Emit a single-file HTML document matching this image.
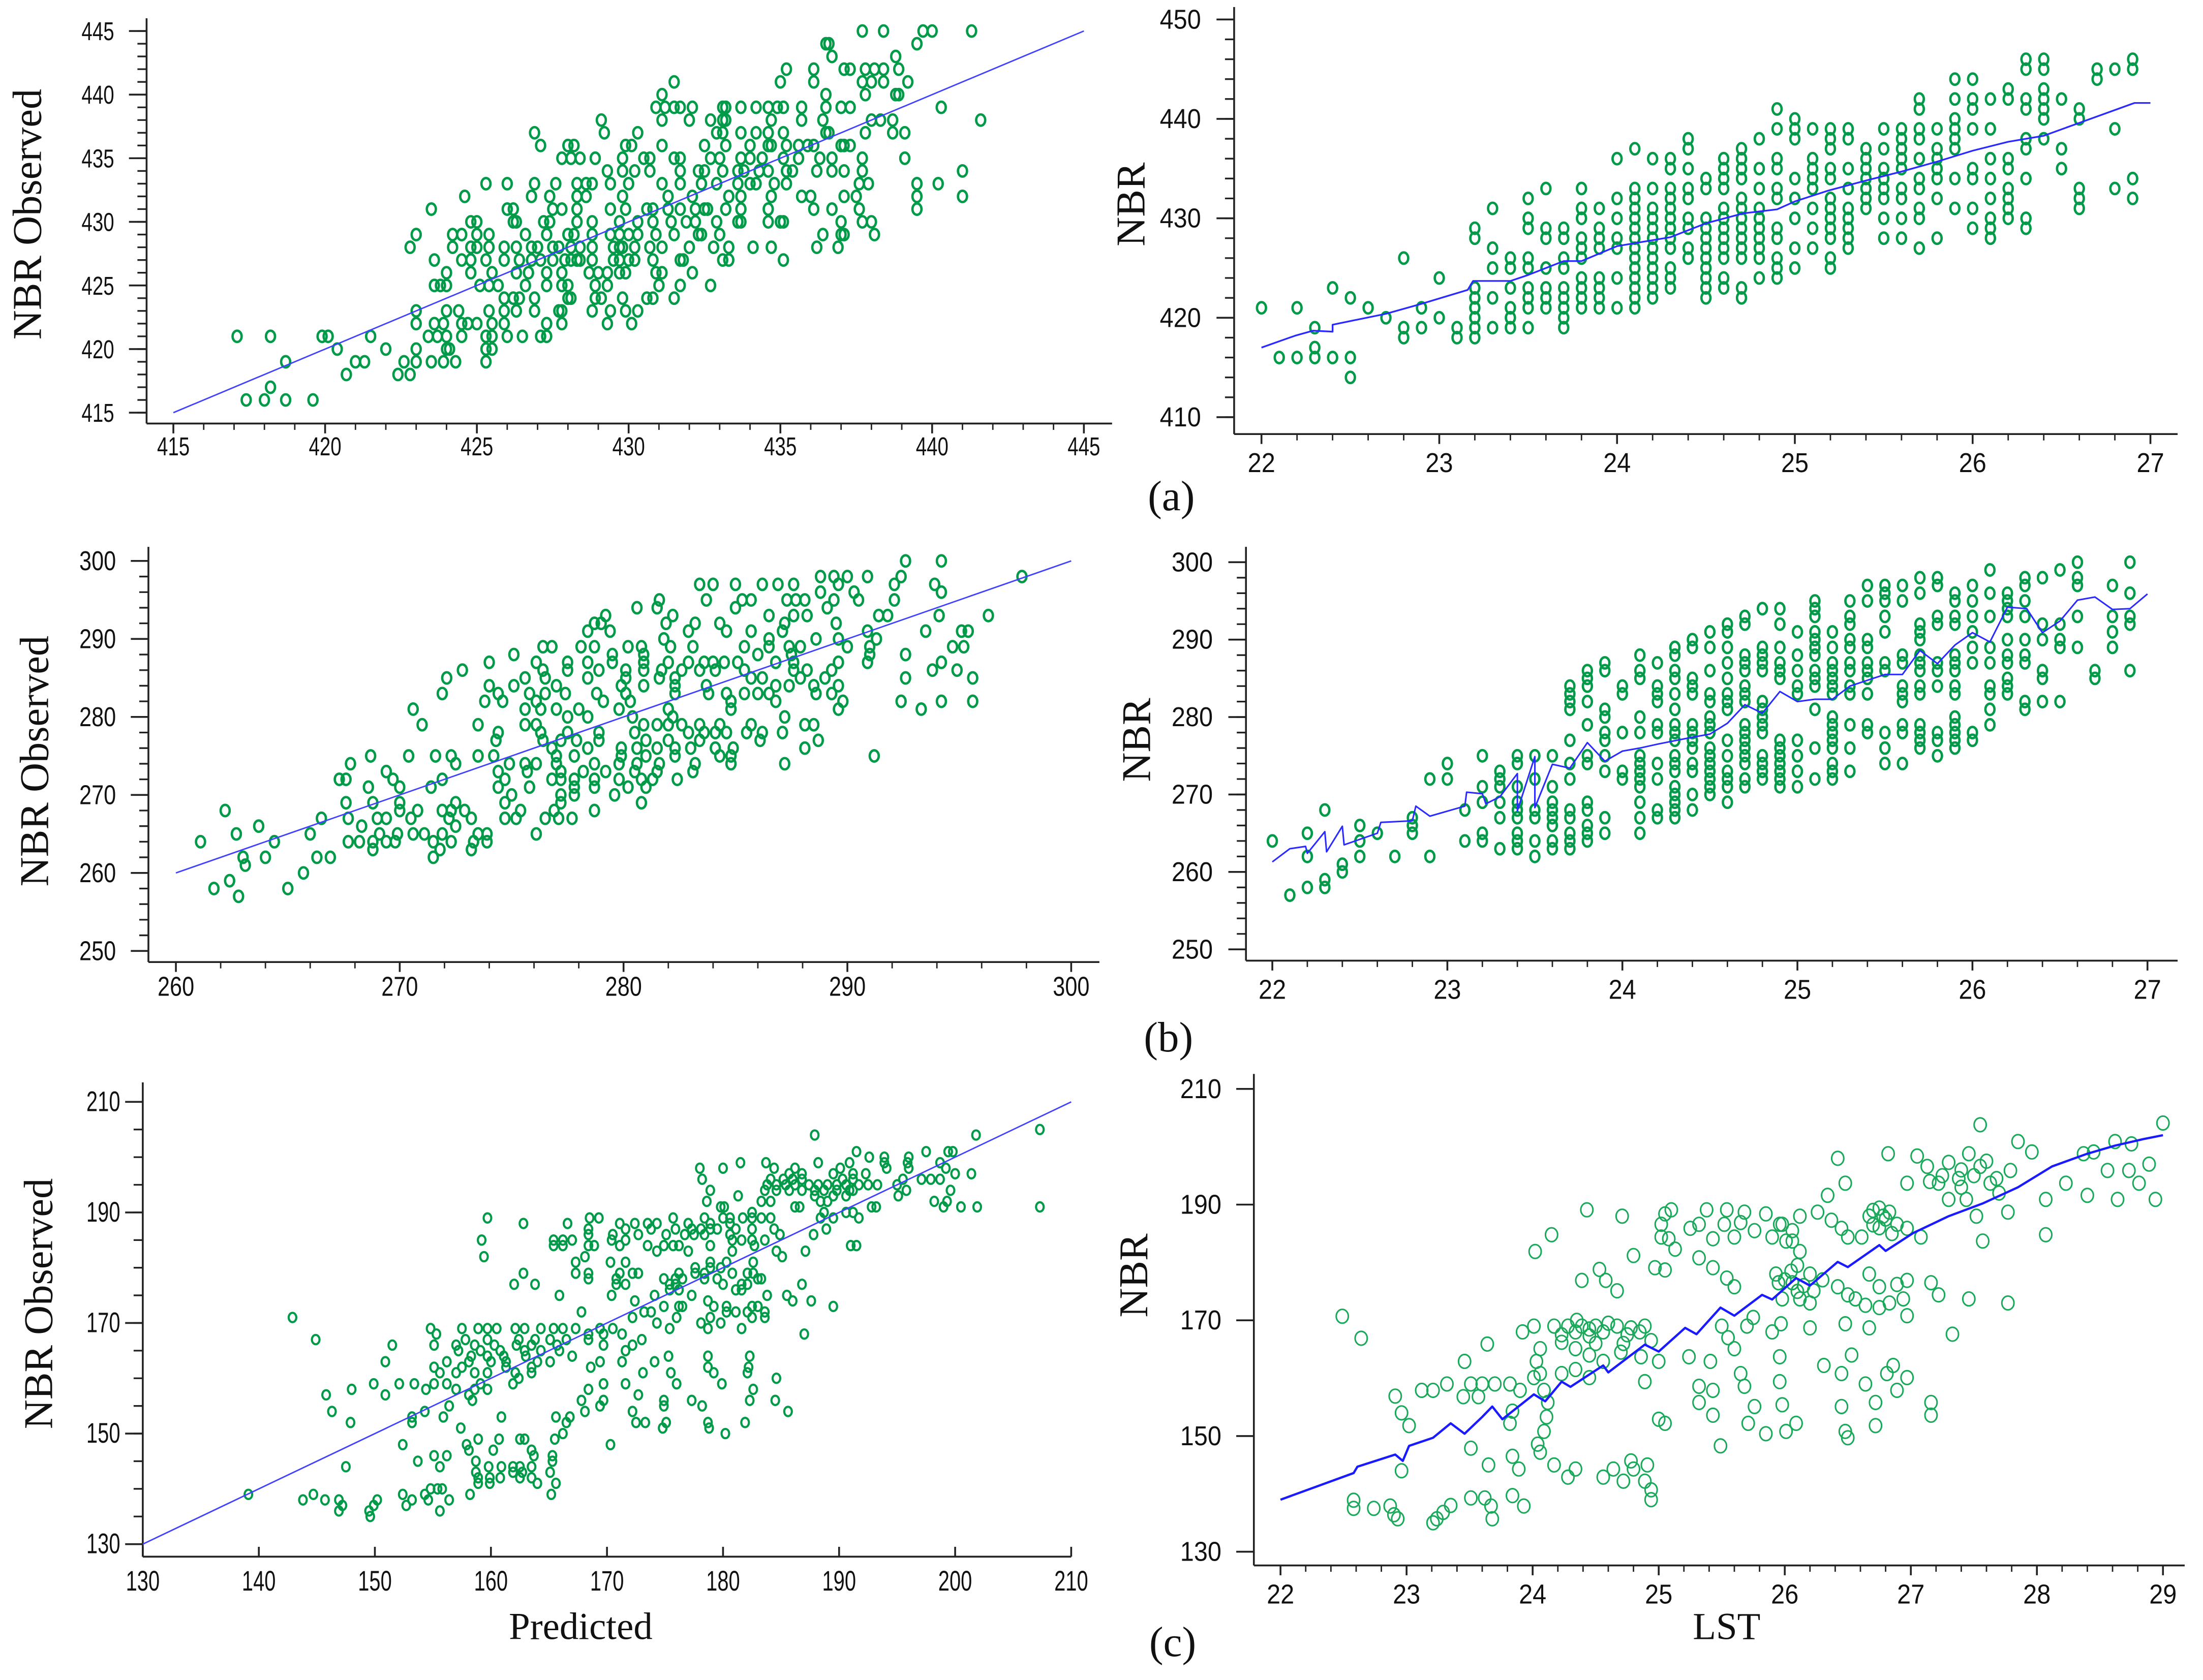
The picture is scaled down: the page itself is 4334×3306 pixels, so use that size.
<!DOCTYPE html>
<html><head><meta charset="utf-8"><title>NBR scatter plots</title>
<style>
html,body{margin:0;padding:0;background:#fff;}
svg{display:block;}
</style></head>
<body>
<svg id="fig" xmlns="http://www.w3.org/2000/svg" width="4334" height="3306" viewBox="0 0 1563 1192" preserveAspectRatio="none">
<rect x="0" y="0" width="1563" height="1192" fill="#fff"/>
<g font-family="'Liberation Serif', serif" fill="#111">
<text transform="translate(29,152) rotate(-90)" text-anchor="middle" font-size="29">NBR Observed</text>
<text transform="translate(34,540) rotate(-90)" text-anchor="middle" font-size="29">NBR Observed</text>
<text transform="translate(37,925) rotate(-90)" text-anchor="middle" font-size="29">NBR Observed</text>
<text transform="translate(812,145) rotate(-90)" text-anchor="middle" font-size="29">NBR</text>
<text transform="translate(816,525) rotate(-90)" text-anchor="middle" font-size="29">NBR</text>
<text transform="translate(814,905) rotate(-90)" text-anchor="middle" font-size="29">NBR</text>
<text x="831" y="362" text-anchor="middle" font-size="30">(a)</text>
<text x="829" y="746" text-anchor="middle" font-size="30">(b)</text>
<text x="832" y="1175" text-anchor="middle" font-size="30">(c)</text>
<text x="412" y="1163" text-anchor="middle" font-size="27">Predicted</text>
<text x="1225" y="1163" text-anchor="middle" font-size="27">LST</text>
</g>
</svg>
<script>
// ---------- Panel (a) left: rows of observed NBR with predicted values ----------
const aLeftRowY = [445,444,443,442,441,440,439,438,437,436,435,434,433,432,431,430,429,428,427,426,425,424,423,422,421,420,419,418,417,416];
const aLeftRowX = [
[437.7,438.4,439.7,440.0,441.3],
[436.5,436.6,439.5],
[436.7,438.8],
[435.2,436.1,437.1,437.3,437.8,438.1,438.4,438.9],
[431.5,435.0,436.1,437.7,438.0,438.4,439.2],
[431.1,436.5,437.8,438.8,438.9],
[430.9,431.2,431.5,431.7,432.1,433.1,433.2,433.7,434.2,434.6,434.9,435.1,435.7,436.5,437.0,437.3,440.3],
[429.1,431.1,432.0,432.7,433.1,433.2,434.7,435.7,436.4,438.0,438.3,438.7,441.6],
[426.9,429.2,430.3,432.9,433.1,433.7,434.2,434.6,435.1,436.5,436.6,437.8,438.7,439.1],
[427.1,428.0,428.2,429.9,430.1,431.1,432.5,433.2,434.0,434.6,434.7,435.2,435.6,435.9,436.1,437.0,437.1,437.3],
[427.8,428.1,428.4,428.9,429.8,430.5,430.7,431.5,431.7,432.7,433.0,433.7,434.0,434.4,435.1,435.6,436.3,436.7,437.7,439.1],
[429.3,429.8,430.2,430.7,431.7,432.3,432.5,433.1,433.6,433.8,434.3,434.6,435.2,435.4,436.2,436.7,437.1,437.7,441.0],
[425.3,426.0,426.9,427.6,428.3,428.6,428.8,429.4,430.0,431.1,431.7,432.4,432.9,433.6,434.0,434.2,434.8,435.2,437.6,437.9,439.5,440.2],
[424.6,426.8,427.4,428.3,428.6,429.8,431.3,432.1,433.3,433.7,434.7,435.7,436.0,437.1,437.5,439.5,441.0],
[423.5,426.0,426.2,427.5,427.8,428.3,429.4,429.9,430.6,430.8,431.3,431.7,432.2,432.5,432.6,433.2,433.7,434.6,436.1,436.7,437.6,439.5],
[424.8,425.0,426.2,426.3,427.2,427.4,428.3,428.8,429.7,430.3,430.8,431.4,431.9,432.2,432.9,433.6,433.7,434.6,435.0,435.1,437.0,437.7,438.0],
[423.0,424.2,424.5,425.0,425.4,426.6,427.3,428.0,428.2,428.8,429.4,429.7,430.0,430.3,430.9,431.5,432.3,432.4,433.0,436.4,437.0,437.1,438.1],
[422.8,424.2,424.8,425.0,425.4,425.9,426.3,426.8,427.0,427.5,427.7,428.1,428.4,428.8,429.5,429.7,429.8,430.2,430.7,431.1,432.0,432.8,433.3,434.1,434.7,436.2,436.9],
[423.6,424.5,424.8,425.3,425.9,426.4,426.8,427.1,427.5,427.9,428.1,428.3,428.4,428.8,429.5,429.7,430.0,430.2,430.8,431.7,431.8,433.1,433.3,435.1],
[424.0,424.8,425.5,426.3,426.7,427.3,427.8,428.7,429.0,429.3,429.7,429.9,430.9,431.1,432.1],
[423.6,423.8,424.0,425.1,425.4,425.7,426.6,427.3,427.8,428.0,428.9,429.3,431.0,431.7,432.7],
[425.9,426.2,426.4,426.9,428.0,428.1,428.9,429.1,429.8,430.6,430.8,431.5],
[423.0,424.0,424.4,425.4,425.9,426.3,426.9,427.7,427.8,428.8,429.4,429.9,430.3],
[423.0,423.6,423.9,424.5,424.7,425.0,425.5,425.9,427.3,427.8,429.3,430.1],
[417.1,418.2,419.9,420.1,421.5,423.4,423.7,424.0,424.5,425.3,425.5,426.0,426.5,427.1,427.3],
[420.4,422.0,423.0,424.0,424.1,425.3,425.5],
[418.7,421.0,421.3,422.6,423.0,423.5,423.9,424.3,425.3],
[420.7,422.4,422.8],
[418.2],
[417.4,418.0,418.7,419.6]
];
const aLeftFitX = [415,445];
const aLeftFitY = [415,445];

// ---------- Panel (a) right: columns of LST with NBR values ----------
const aRightColX = [22.0,22.1,22.2,22.3,22.4,22.5,22.6,22.7,22.8,22.9,23.0,23.1,23.2,23.3,23.4,23.5,23.6,23.7,23.8,23.9,24.0,24.1,24.2,24.3,24.4,24.5,24.6,24.7,24.8,24.9,25.0,25.1,25.2,25.3,25.4,25.5,25.6,25.7,25.8,25.9,26.0,26.1,26.2,26.3,26.4,26.5,26.6,26.7,26.8,26.9];
const aRightColY = [
[421],[416],[421,416],[419,417,416],[423,416],[422,416,414],[421],[420],[426,419,418],[421,419],
[424,420],[419,418],[429,428,423,422,421,420,419,418],[431,427,425,422,419],[426,425,423,421,420,419],
[432,430,429,426,425,423,422,421,419],[433,429,428,425,423,422,421],[429,428,426,425,423,422,421,420,419],
[433,431,430,428,427,426,424,423,422,421],[431,429,428,427,424,423,422,421],[436,432,430,428,427,424,421],
[437,433,432,431,430,429,428,427,426,425,424,423,422,421],[436,433,431,430,429,428,427,426,425,424,423,422],
[436,435,433,432,431,430,429,428,427,425,424,423],[438,437,435,433,432,430,429,427,426],
[434,433,430,429,428,427,426,425,424,423,422],[436,435,434,433,431,430,429,428,427,426,424,423],
[437,436,435,434,432,431,430,429,428,427,426,423,422],[438,435,433,431,430,429,428,427,426,424],
[441,439,436,435,433,432,429,428,426,425,424],[440,439,438,434,432,430,427,425],[439,436,435,434,433,431,429,427],
[439,438,437,435,434,432,431,430,429,428,426,425],[439,438,435,433,431,430,429,428,427],[437,436,435,434,433,432,431],
[439,437,435,434,433,432,430,428],[439,438,437,436,435,433,432,430,428],[442,441,439,438,436,434,433,431,430,427],
[439,437,436,435,434,432,428],[444,442,440,439,438,437,434,431],[444,442,441,439,435,434,431,429],
[442,439,436,434,432,430,429,428],[443,442,436,435,433,432,431,430],[446,445,442,441,438,437,434,430,429],
[446,445,443,442,441,440,438],[442,437,435],[441,440,433,432,431],[445,444],[445,439,433],[446,445,434,432]
];
const aRightFitX = [22.0,22.19,22.29,22.4,22.4,22.7,22.89,23.16,23.19,23.4,23.5,23.7,23.8,24.0,24.3,24.5,24.71,24.9,25.0,25.19,25.4,25.6,25.8,26.0,26.2,26.4,26.6,26.91,27.0];
const aRightFitY = [417.0,418.2,418.7,418.6,419.3,420.4,421.35,422.8,423.7,423.7,424.3,425.7,425.7,427.2,428.1,429.5,430.5,430.9,431.7,432.8,433.8,434.7,435.7,436.8,437.7,438.3,439.6,441.6,441.6];

// ---------- Panel (b) left ----------
const bLeftRowY = [300,298,297,296,295,294,293,292,291,290,289,288,287,286,285,284,283,282,281,280,279,278,277,276,275,274,273,272,271,270,269,268,267,266,265,264,263,262,261,260,259,258,257];
const bLeftRowX = [
[292.6,294.2],
[288.8,289.4,290.0,290.9,292.4,297.8],
[283.4,284.0,285.0,286.2,286.9,287.6,289.6,292.1,293.9],
[288.8,290.3,294.2],
[281.6,283.7,285.3,285.7,287.3,287.7,288.1,289.4,290.5,292.1],
[280.6,281.5,285.0,289.1],
[279.2,282.2,286.5,287.6,288.2,291.4,291.8,294.1,296.3],
[278.7,279.0,281.9,283.2,284.3,287.2,289.5],
[278.4,279.4,282.9,284.6,285.7,287.1,290.9,293.5,295.1,295.4],
[281.8,286.5,288.6,289.6,291.3],
[276.4,276.8,278.1,278.7,280.2,280.8,282.1,283.1,285.4,286.5,287.4,287.9,290.0,291.0,294.7,295.2],
[275.1,279.5,280.9,286.0,287.5,291.0,292.6],
[274.0,276.1,277.5,278.4,279.5,280.9,282.0,282.9,283.6,284.0,284.5,285.1,286.8,287.6,289.6,290.9,294.2],
[272.8,276.4,277.5,278.9,280.1,280.9,281.7,282.6,283.4,284.1,285.4,287.6,288.2,289.3,293.8,294.9],
[272.1,275.6,276.5,278.4,280.1,281.6,282.3,285.7,286.2,287.9,289.0,292.6,295.6],
[274.0,275.1,277.0,279.9,280.9,282.3,283.7,286.8,287.4,288.5,289.6],
[271.9,274.4,275.8,276.5,277.4,278.8,280.1,282.3,283.8,284.6,285.4,286.0,286.5,288.6,289.3],
[273.8,274.6,276.1,279.1,280.3,284.8,286.8,289.8,292.4,294.2,295.6],
[270.6,275.6,276.3,277.0,278.0,279.8,282.0,284.8,289.6,293.3],
[277.5,278.4,280.4,282.2,287.2],
[271.0,273.5,275.6,276.1,280.9,281.5,282.0,282.6,283.4,284.3,285.7,288.1,288.5],
[274.4,276.3,277.5,278.9,280.5,282.9,283.6,284.1,284.6,285.5,286.2,287.1],
[274.3,276.4,277.2,277.9,278.9,281.0,282.0,283.4,286.1,288.7],
[276.8,278.4,279.9,280.6,281.5,282.3,283.0,284.1,284.9,288.1],
[268.7,270.4,271.6,272.3,273.5,274.2,277.0,277.8,279.9,281.0,282.3,284.3,284.8,291.2],
[267.8,272.5,274.9,275.6,276.1,277.0,278.7,279.8,280.6,281.6,283.2,284.8,287.2],
[269.4,274.4,275.7,277.2,278.2,279.2,280.5,281.5,283.1],
[267.3,267.6,269.7,271.9,274.7,276.8,277.2,277.8,278.7,279.8,280.8,281.3,282.4],
[268.6,270.0,271.4,274.4,275.8,277.8,278.7,280.2,281.0],
[275.0,277.2,277.8,279.6],
[267.6,268.8,270.0,272.5,274.7,277.2,280.8],
[262.2,270.0,270.8,271.9,272.3,272.9,275.4,276.9,278.7],
[266.5,267.7,269.0,269.4,270.5,272.2,273.2,274.7,275.2,276.5,277.1,277.7],
[263.7,268.3,272.5],
[262.7,266.0,269.1,269.9,270.6,271.1,271.9,273.5,273.9,276.1],
[261.1,264.4,267.7,268.2,268.8,269.4,269.8,271.5,272.3,273.3,273.9],
[268.8,271.8,273.2],
[263.0,264.0,266.3,266.9,271.5],
[263.1],
[265.7],
[262.4],
[261.7,265.0],
[262.8]
];
const bLeftFitX = [260,300];
const bLeftFitY = [260,300];

// ---------- Panel (b) right ----------
const bRightColX = [22.0,22.1,22.2,22.3,22.4,22.5,22.6,22.7,22.8,22.9,23.0,23.1,23.2,23.3,23.4,23.5,23.6,23.7,23.8,23.9,24.0,24.1,24.2,24.3,24.4,24.5,24.6,24.7,24.8,24.9,25.0,25.1,25.2,25.3,25.4,25.5,25.6,25.7,25.8,25.9,26.0,26.1,26.2,26.3,26.4,26.5,26.6,26.7,26.8,26.9];
const bRightColY = [
[264],[257],[265,262,258],[268,259,258],[261,260],[266,264,262],[265],[262],[267,266,265],[272,262],
[274,272],[268,264],[275,271,269,265,264],[273,272,271,269,267,263],[275,274,271,269,268,267,265,264,263],
[275,272,268,267,264,262],[275,271,269,268,267,266,264,263],[284,283,282,281,277,274,272,268,267,265,264,263],
[286,285,284,282,279,275,274,269,268,266,265,264],[287,286,281,280,278,277,275,273,267,265],[284,283,278,273,272],
[288,286,285,280,278,275,274,273,272,271,269,267,265],[287,284,283,282,279,278,274,272,268,267],
[289,288,286,285,283,281,279,278,277,275,274,273,271,270,269,268,267],[290,289,285,284,283,279,278,277,276,274,273,270,268],
[291,289,286,283,282,280,279,278,276,275,274,273,272,271,270],[292,291,289,287,285,283,282,281,277,275,273,272,271,269],
[293,292,288,287,286,284,283,282,279,278,277,276,275,274,272,271],[294,289,288,287,286,282,281,280,279,278,275,274,273,272],
[294,292,289,287,286,285,277,276,275,274,273,272,271],[291,288,286,284,283,277,275,273,271],
[295,294,293,291,290,289,288,286,285,284,281,276,272],[291,289,287,286,285,284,283,280,279,278,277,276,274,273,272],
[295,293,292,290,289,287,286,284,283,279,276,273],[297,295,290,289,287,286,285,283,279,278],
[297,296,295,293,291,287,286,278,276,274],[297,295,288,287,284,283,282,279,278,274],
[298,296,292,291,290,288,287,286,284,283,279,278,277,276],[298,297,293,292,287,286,284,278,277,275],
[296,295,293,292,288,287,286,284,283,280,279,278,277,276],[297,295,293,291,289,287,278,277],
[299,296,293,289,287,284,283,281,279],[296,295,294,293,290,288,287,285,284,283],[298,297,295,293,290,288,287,282,281],
[298,292,290,286,285,282],[299,292,290,289,282],[300,298,297,293,289],[286,285],[297,293,291,289],[300,296,293,292,286]
];
const bRightFitX = [22.0,22.1,22.19,22.2,22.3,22.31,22.4,22.41,22.6,22.62,22.8,22.82,22.9,23.1,23.11,23.2,23.22,23.3,23.4,23.4,23.5,23.5,23.6,23.7,23.8,23.9,24.0,24.1,24.2,24.4,24.5,24.6,24.7,24.8,24.9,25.0,25.1,25.2,25.3,25.5,25.6,25.7,25.8,25.9,26.0,26.1,26.2,26.31,26.4,26.5,26.6,26.7,26.8,26.9,27.0];
const bRightFitY = [261.3,263.0,263.3,262.4,265.2,262.6,265.9,263.5,265.0,266.4,266.6,268.5,267.2,268.5,270.3,270.1,268.8,269.7,272.7,267.9,274.9,268.3,273.9,273.4,276.7,274.3,275.6,276.0,276.5,277.4,277.8,279.2,281.6,280.5,283.3,282.0,282.3,282.3,284.0,285.5,285.5,288.6,286.9,289.3,290.9,289.7,294.2,294.0,290.9,292.4,295.1,295.5,293.9,294.0,295.9];

// ---------- Panel (c) left ----------
const cLeftRowY = [205,204,201,200,199,198,197,196,195,194,193,192,191,190,189,188,187,186,185,184,183,182,181,180,179,178,177,176,175,174,173,172,171,170,169,168,167,166,165,164,163,162,161,160,159,158,157,156,155,154,153,152,151,150,149,148,147,146,145,144,143,142,141,140,139,138,137,136,135];
const cLeftRowX = [
[207.3],[187.9,201.8],[191.5,197.5,199.4,199.8],[192.6,193.9,196.0],
[181.5,183.7,188.2,190.9,193.9,195.9,198.7],[178.0,180.0,184.4,186.2,190.1,194.1,196.0,199.2],
[185.7,186.8,189.5,191.2,192.3,200.0,201.4],[178.2,184.1,185.2,186.0,186.8,190.3,191.2,195.5,197.1,197.9,198.7],
[183.8,184.6,185.4,186.2,187.4,188.2,189.0,189.8,190.6,191.7,192.5,193.3,195.0],
[178.9,183.6,184.6,185.7,186.8,187.9,188.7,189.8,190.9,191.2,195.8,199.6],
[181.3,187.9,189.5,190.6,195.1],[178.6,183.3,184.1,188.4,189.0,198.2,199.3],
[179.8,180.1,186.2,186.6,192.8,193.2,199.0,200.5,201.9,207.3],[182.5,188.7,190.6,191.2],
[159.7,168.5,169.3,175.7,178.4,180.0,180.6,181.7,182.5,183.3,184.1,188.4,189.5,191.7],
[162.8,166.6,171.1,172.4,173.5,174.3,177.0,178.9,180.6],
[168.4,171.6,173.8,175.9,177.3,178.1,178.9,179.5,181.1,182.5,184.4,188.9],
[168.4,170.5,172.7,175.1,176.7,177.5,178.4,180.6,184.9,187.8],
[159.2,165.4,166.2,167.0,170.4,171.6,180.8,181.6,182.5,183.6],
[165.4,166.2,168.4,168.9,171.1,173.5,174.9,175.7,176.2,178.9,182.7,191.0,191.5],
[174.3,177.0,180.8,184.6,187.1],[159.4,168.1,185.1],[167.3,170.3,171.6,178.9,180.3,182.6],[177.6,178.9,179.8],
[162.8,167.3,168.4,171.1,172.2,172.7,176.2,177.6,178.4,180.8,182.1,182.6],
[168.4,170.8,174.9,175.9,176.5,178.4,179.5,183.0,183.3],
[162.0,163.8,170.8,171.6,175.4,175.9,180.0,181.6,182.1,186.8],
[175.4,176.2,181.1,181.6],[165.9,170.4,174.1,177.3,183.8,185.5],[172.4,178.7,186.0,187.6],
[174.9,176.2,176.5,179.2,180.3,182.5,183.0,189.5],[167.8,173.2,173.8,180.3,181.1,182.1,183.6],
[142.9,172.2,176.0,178.9,182.5,183.6],[174.3,178.1,179.8],
[154.8,157.5,158.9,159.7,160.5,162.1,162.9,164.3,165.4,166.2,167.3,169.4,170.5,175.4,178.7,181.6],
[155.3,168.4,169.7,171.3,187.0],[144.9,157.8,159.7,162.4,163.8,165.1,166.5,168.4,173.0],
[151.5,155.1,157.0,158.6,160.3,162.2,163.5,165.7,169.7,172.2],[157.2,159.1,160.8,162.9,164.3,165.9,171.6],
[158.3,159.7,161.1,163.0,167.0,175.3,178.7,182.3],[150.9,156.2,158.1,160.0,161.3,164.0,165.1,169.4,171.3,174.1],
[155.1,157.5,161.3,163.5,168.6,178.7,182.2],[155.6,157.0,158.6,159.7,162.1,163.5,173.1,175.5,179.2,182.1],
[162.4,184.6],[149.9,152.1,153.4,155.1,156.2,159.1,161.9,169.7,171.6,176.0,179.9],
[148.0,154.4,157.0,158.6,159.7,168.4,182.6],[145.8,150.9,158.1,172.7],
[158.4,167.8,169.7,174.9,177.3,182.3,184.5],[156.4,169.4,174.9,178.2],[146.3,154.3,168.1,172.2,185.6],
[153.2,155.9,160.9,165.6,166.8],[147.9,153.2,166.5,172.5,173.3,175.1,178.7,181.9],[157.4,174.8,178.8],[166.2,180.2],
[158.9,160.7,162.5,162.9,165.5],[152.4,157.9,170.3],[158.1,160.2,163.5],[155.1,156.2,163.7,165.3],[153.7,158.7,165.3],
[147.5,155.6,159.8,160.9,161.9,162.5,163.5],[158.7,161.9,162.7,165.1],[158.9,159.9,160.8,162.5,163.5],
[158.9,159.9,164.0,165.6],[154.8,155.4,155.8],[139.1,144.7,152.4,154.3,158.2,165.2],
[143.8,145.7,146.9,150.2,153.2,154.6,156.4],[147.2,149.9,152.7],[146.9,149.5,155.6],[149.6]
];
const cLeftFitX = [130,210];
const cLeftFitY = [130,210];

// ---------- Panel (c) right: (LST, NBR) pairs ----------
const cRightPts = [
[22.49,170.7],[22.64,166.9],[22.58,138.9],[22.58,137.5],[22.74,137.5],[22.87,137.9],[22.9,136.4],[22.93,135.7],[22.91,156.9],[22.96,154.0],[23.02,151.8],[22.96,144.0],[23.12,157.9],[23.21,157.9],[23.21,135.0],[23.24,135.7],[23.29,136.8],[23.35,138.0],[23.32,159.0],[23.45,156.8],[23.51,159.0],[23.57,156.8],[23.6,159.0],[23.46,162.9],[23.51,147.9],[23.51,139.3],[23.62,139.3],[23.67,137.9],[23.68,135.7],[23.65,145.0],[23.64,165.9],[23.7,159.0],[23.82,159.0],[23.9,157.9],[23.82,152.2],[23.84,154.3],[23.84,146.5],[23.89,144.3],[23.84,139.7],[23.92,168.0],[24.01,169.0],[24.06,165.1],[24.03,162.9],[24.06,160.8],[23.93,137.9],
[24.01,160.1],[24.09,157.9],[24.12,155.8],[24.11,153.3],[24.09,150.8],[24.04,148.6],[24.02,181.9],[24.15,184.8],
[24.06,147.2],[24.17,145.0],[24.28,142.9],[24.34,144.3],
[24.17,169.0],[24.28,169.0],[24.34,168.0],[24.39,169.0],[24.5,169.0],[24.56,168.0],[24.23,167.5],[24.45,167.3],
[24.23,166.2],[24.34,165.1],[24.45,164.0],[24.56,162.9],[24.23,160.8],[24.34,161.5],[24.45,160.1],
[24.39,176.9],[24.53,178.8],[24.58,176.9],[24.67,175.1],[24.43,189.1],[24.71,188.0],[24.8,181.2],
[24.56,142.9],[24.64,144.3],[24.72,142.2],[24.78,145.7],[24.8,144.3],[24.89,142.2],[24.94,140.7],[24.91,145.0],[24.94,139.0],
[24.78,168.7],[24.89,169.0],[24.94,166.5],[24.86,163.7],[25.0,162.9],[24.89,159.4],[24.67,169.0],[24.72,166.0],
[24.97,179.1],[25.05,178.7],[25.02,186.6],[25.05,188.4],[25.1,189.1],[25.02,184.4],[25.08,184.1],
[25.0,152.9],[25.05,152.2],[25.13,182.3],
[25.24,163.7],[25.32,158.6],[25.41,162.9],[25.43,157.9],[25.32,155.8],[25.43,153.6],
[25.25,185.9],[25.32,186.6],[25.38,189.1],[25.43,184.1],[25.52,186.6],[25.54,189.1],[25.6,184.4],[25.65,186.9],[25.68,188.7],[25.76,185.5],[25.85,188.4],[25.9,184.4],[25.96,186.6],[26.01,183.7],
[25.32,180.8],[25.43,179.1],[25.54,177.3],[25.6,175.8],[25.49,148.3],
[25.6,165.1],[25.65,160.8],[25.68,158.6],[25.71,152.2],[25.76,155.1],[25.85,150.4],
[25.98,186.6],[26.06,183.7],[26.12,181.9],[26.06,185.5],[26.12,188.0],
[25.93,178.0],[25.98,173.7],[25.97,169.4],[25.96,163.7],[25.96,159.4],[25.98,155.4],[26.01,150.8],[26.09,152.2],
[26.06,176.5],[26.12,173.7],[26.2,173.0],[26.2,168.7],[26.23,175.1],
[26.26,188.7],[26.34,191.6],[26.42,198.0],[26.48,193.7],[26.37,187.3],[26.45,185.9],
[26.31,162.2],[26.45,160.8],[26.45,155.1],[26.48,150.8],[26.5,149.7],[26.53,164.0],[26.64,159.0],[26.72,155.8],[26.72,151.8],[26.81,160.8],[26.86,162.2],[26.89,157.9],[26.97,160.1],
[26.42,175.8],[26.5,174.4],[26.56,173.7],[26.64,172.6],[26.75,172.2],[26.83,173.0],[26.94,173.7],[26.97,170.8],
[26.48,169.4],[26.67,168.7],
[26.5,184.4],[26.61,184.4],[26.67,188.0],[26.75,189.4],[26.83,188.7],[26.89,186.6],[26.97,185.9],[26.7,189.0],[26.78,188.0],
[26.67,178.0],[26.75,175.8],[26.89,176.2],[26.97,176.9],
[26.82,198.8],[26.97,193.7],[27.05,198.4],[27.13,196.6],[27.22,193.7],[27.3,197.3],[27.38,194.5],[27.46,198.8],[27.55,196.6],[27.63,193.7],[27.15,194.0],[27.25,195.0],[27.4,196.0],
[27.08,184.4],[27.16,176.5],[27.22,174.4],[27.33,167.6],[27.46,173.7],[27.16,155.8],[27.16,153.6],
[27.3,190.9],[27.44,190.9],[27.52,188.0],[27.57,183.7],[27.77,188.7],[27.55,203.8],
[27.68,194.5],[27.79,195.9],[27.85,200.9],[27.96,199.1],[28.07,190.9],[28.07,184.8],[27.77,173.0],
[28.23,193.7],[28.37,198.8],[28.4,191.6],[28.45,199.1],[28.56,195.9],[28.62,200.9],[28.64,190.9],[28.73,195.9],[28.75,200.5],[28.81,193.7],[28.89,197.0],[28.94,190.9],[29.0,204.1],
[26.0,177.0],[26.05,178.5],[26.1,179.5],[26.15,176.0],[26.2,178.0],[26.1,175.0],[25.95,176.5],[26.3,177.0],
[24.35,170.0],[24.45,168.5],[24.6,169.5],[24.75,167.5],[24.85,168.0],[24.5,166.0],[24.7,164.5],
[26.75,186.0],[26.8,187.5],[26.85,185.0],[26.7,186.5],[27.5,195.0],[27.6,197.5],[27.7,192.0],[27.4,193.0],
[25.5,169.0],[25.55,167.0],[25.7,169.0],[25.75,170.5],[25.9,168.0]
];
const cRightFitX = [22.0,22.58,22.61,22.91,22.97,23.02,23.21,23.35,23.46,23.6,23.68,23.76,24.01,24.1,24.23,24.3,24.56,24.6,24.89,25.0,25.21,25.3,25.49,25.6,25.82,25.9,26.09,26.2,26.42,26.5,26.75,26.8,27.02,27.3,27.57,27.85,28.12,28.4,28.62,28.84,29.0];
const cRightFitY = [139.0,143.6,144.7,146.8,145.7,148.3,149.7,152.2,150.4,153.3,155.1,152.9,157.2,156.0,159.4,158.5,162.2,161.0,165.8,164.6,168.7,167.6,172.2,170.8,174.4,173.6,177.3,176.0,180.1,179.2,183.0,182.0,185.1,188.0,190.2,193.0,196.6,198.8,200.2,201.3,202.0];

// ---------- Tick label arrays ----------
const aLeftTicks = [415,420,425,430,435,440,445];
const aRightXTicks = [22,23,24,25,26,27];
const aRightYTicks = [410,420,430,440,450];
const bLeftTicks = [260,270,280,290,300];
const bLeftYTicks = [250,260,270,280,290,300];
const bRightYTicks = [250,260,270,280,290,300];
const cLeftTicks = [130,140,150,160,170,180,190,200,210];
const cLeftYTicks = [130,150,170,190,210];
const cRightXTicks = [22,23,24,25,26,27,28,29];
const cRightYTicks = [130,150,170,190,210];

const NS = 'http://www.w3.org/2000/svg';
const svg = document.getElementById('fig');

function mk(tag, attrs, parent){
  const e = document.createElementNS(NS, tag);
  for (const k in attrs) e.setAttribute(k, attrs[k]);
  parent.appendChild(e);
  return e;
}

function buildPanel(p){
  const g = mk('g', {}, svg);
  
  
  const sx = v => p.px0 + (v - p.x0) * (p.px1 - p.px0) / (p.x1 - p.x0);
  const sy = v => p.py0 + (v - p.y0) * (p.py1 - p.py0) / (p.y1 - p.y0);
  const axes = mk('g', {stroke:'#222', 'stroke-width':1.3, fill:'none'}, g);
  
  
  const ya = mk('line', {x1:p.ax, y1:p.ayTop, x2:p.ax, y2:p.ay}, axes);
  
  
  const xa = mk('line', {x1:p.ax, y1:p.ay, x2:p.axRight, y2:p.ay}, axes);
  
  
  const xdir = p.xTickUp ? -1 : 1;
  if (p.xMinor){
    const n = Math.round((p.x1 - p.x0) / p.xMinor);
    for (let i=0;i<=n;i++){
      const v = p.x0 + i*p.xMinor; const X = sx(v);
      const t = mk('line', {x1:X, y1:p.ay, x2:X, y2:p.ay + xdir*4.5, 'stroke-width':1}, axes);
      
      
    }
  }
  p.xTicks.forEach(v => {
    const X = sx(v);
    const t = mk('line', {x1:X, y1:p.ay, x2:X, y2:p.ay + xdir*7}, axes);
    
    
    const tx = mk('text', {transform:'translate(' + X + ',' + (p.ay + p.xLabDy) + ') scale(' + p.fsx + ',1)', 'text-anchor':'middle', 'font-size':p.fs, fill:'#111', 'font-family':"'Liberation Sans', sans-serif"}, g);
    tx.textContent = String(v);
    
    
  });
  if (p.yMinor){
    const n = Math.round((p.y1 - p.y0) / p.yMinor);
    for (let i=0;i<=n;i++){
      const v = p.y0 + i*p.yMinor; const Y = sy(v);
      const t = mk('line', {x1:p.ax - 6.5, y1:Y, x2:p.ax, y2:Y, 'stroke-width':1.2}, axes);
      
      
    }
  }
  p.yTicks.forEach(v => {
    const Y = sy(v);
    const t = mk('line', {x1:p.ax - 12.5, y1:Y, x2:p.ax, y2:Y}, axes);
    
    
    const tx = mk('text', {transform:'translate(' + (p.ax - p.yLabDx) + ',' + (Y + 6.5) + ') scale(' + p.fsx + ',1)', 'text-anchor':'end', 'font-size':p.fs, fill:'#111', 'font-family':"'Liberation Sans', sans-serif"}, g);
    tx.textContent = String(v);
    
    
  });
  const pg = mk('g', {fill:'none', stroke:p.mc, 'stroke-width':p.msw}, g);
  
  
  p.pts.forEach(pt => {
    const c = mk('ellipse', {cx:sx(pt[0]).toFixed(2), cy:sy(pt[1]).toFixed(2), rx:p.rx, ry:p.ry}, pg);
    
    
  });
  let d = '';
  p.fitX.forEach((v,i) => { d += (i ? 'L' : 'M') + sx(v).toFixed(2) + ',' + sy(p.fitY[i]).toFixed(2); });
  const ln = mk('path', {d:d, fill:'none', stroke:p.lc, 'stroke-width':p.lw, 'stroke-linejoin':'round'}, g);
  
  
}

function rowsToPts(rowY, rowX){ const out=[]; rowY.forEach((y,i)=>rowX[i].forEach(x=>out.push([x,y]))); return out; }
function colsToPts(colX, colY){ const out=[]; colX.forEach((x,i)=>colY[i].forEach(y=>out.push([x,y]))); return out; }

const common = {mc:'#009a48', msw:1.7, rx:3.2, ry:4.0};

buildPanel(Object.assign({}, common, {name:'panel-a-left', x0:415, x1:445, px0:123, px1:769, y0:415, y1:445, py0:292.8, py1:22,
  ax:104, ay:300.5, ayTop:13, axRight:789, xTicks:aLeftTicks, yTicks:aLeftTicks, xMinor:1, yMinor:1, xLabDy:22.5, yLabDx:23, fs:18.5, fsx:0.75,
  pts:rowsToPts(aLeftRowY, aLeftRowX), fitX:aLeftFitX, fitY:aLeftFitY, lc:'#4040ff', lw:1}));

buildPanel(Object.assign({}, common, {name:'panel-a-right', x0:22, x1:27, px0:895, px1:1525.7, y0:410, y1:450, py0:296, py1:13.8,
  ax:875.6, ay:308, ayTop:5, axRight:1545, xTicks:aRightXTicks, yTicks:aRightYTicks, xMinor:0.2, yMinor:2, xLabDy:27, yLabDx:23.5, fs:19.5, fsx:0.9,
  pts:colsToPts(aRightColX, aRightColY), fitX:aRightFitX, fitY:aRightFitY, lc:'#2a2aff', lw:1.2}));

buildPanel(Object.assign({}, common, {name:'panel-b-left', x0:260, x1:300, px0:124.8, px1:760, y0:250, y1:300, py0:674.7, py1:398,
  ax:105.3, ay:682.6, ayTop:388, axRight:780, xTicks:bLeftTicks, yTicks:bLeftYTicks, xMinor:2, yMinor:2, xLabDy:24, yLabDx:23, fs:19.5, fsx:0.8,
  pts:rowsToPts(bLeftRowY, bLeftRowX), fitX:bLeftFitX, fitY:bLeftFitY, lc:'#4040ff', lw:1}));

buildPanel(Object.assign({}, common, {name:'panel-b-right', x0:22, x1:27, px0:902.7, px1:1523.6, y0:250, y1:300, py0:673.6, py1:398.9,
  ax:884, ay:681.6, ayTop:388, axRight:1545, xTicks:aRightXTicks, yTicks:bRightYTicks, xMinor:0.2, yMinor:2, xLabDy:27, yLabDx:23.5, fs:19.5, fsx:0.9,
  pts:colsToPts(bRightColX, bRightColY), fitX:bRightFitX, fitY:bRightFitY, lc:'#2a2aff', lw:1.1}));

buildPanel(Object.assign({}, common, {name:'panel-c-left', x0:130, x1:210, px0:101.3, px1:760, y0:130, y1:210, py0:1095.6, py1:781.8,
  ax:101.3, ay:1104.5, ayTop:768, axRight:760, xTicks:cLeftTicks, yTicks:cLeftYTicks, xMinor:0, yMinor:5, xTickUp:true, xLabDy:24, yLabDx:16, fs:20, fsx:0.72,
  pts:rowsToPts(cLeftRowY, cLeftRowX), fitX:cLeftFitX, fitY:cLeftFitY, lc:'#4040ff', lw:1, rx:2.7, ry:3.3, msw:1.5}));

buildPanel(Object.assign({}, common, {name:'panel-c-right', x0:22, x1:29, px0:908.5, px1:1534.6, y0:130, y1:210, py0:1101, py1:772.6,
  ax:889.6, ay:1110.7, ayTop:762, axRight:1550, xTicks:cRightXTicks, yTicks:cRightYTicks, xMinor:0.2, yMinor:0, xLabDy:27, yLabDx:23, fs:19.5, fsx:0.9,
  pts:cRightPts, fitX:cRightFitX, fitY:cRightFitY, lc:'#1a1aff', lw:1.6, mc:'#1aa85a', msw:1.1, rx:4.3, ry:4.9}));
</script>
</body></html>
